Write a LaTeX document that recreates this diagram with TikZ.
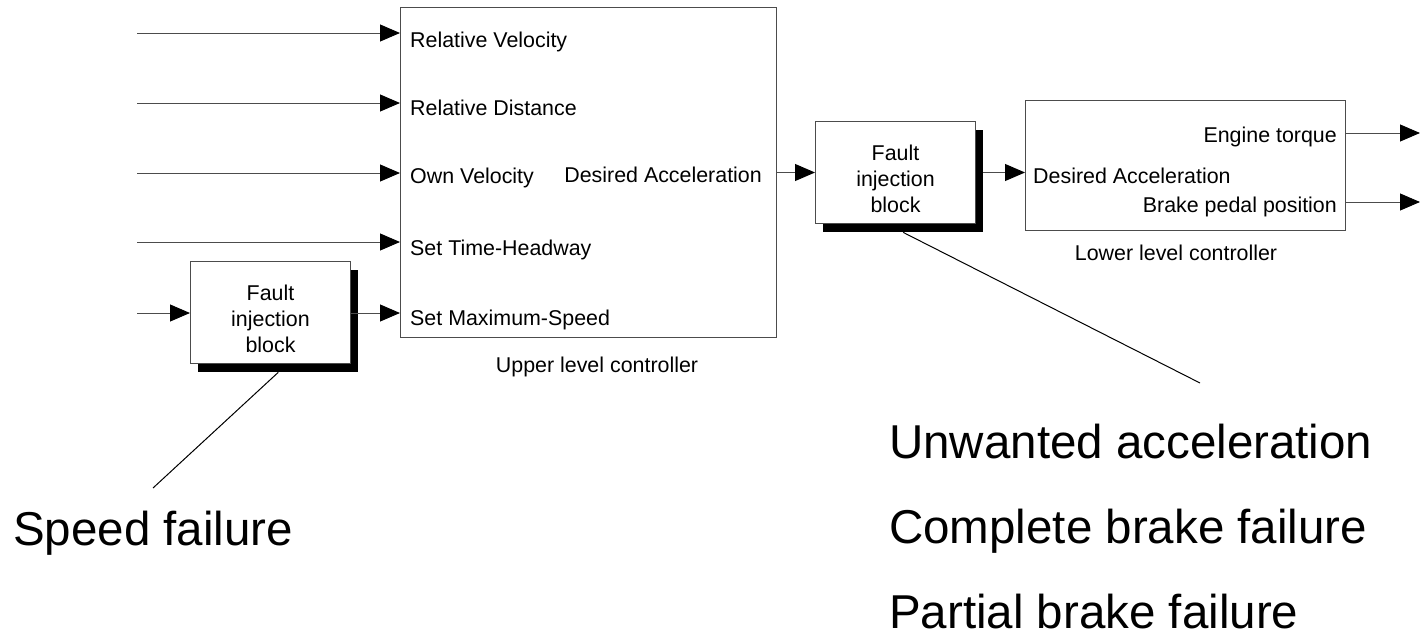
\documentclass[tikz,border=0pt]{standalone}
\usepackage{fontspec}
\setmainfont{Liberation Sans}
\usetikzlibrary{arrows.meta}
\tikzset{
  ln/.style={line width=1pt, draw=black!70},
  arr/.style={ln, -{Triangle[length=20pt,width=17pt,color=black]}},
  blk/.style={draw=black!70, line width=1pt, fill=white, inner sep=0pt, anchor=north west},
  shd/.style={fill=black, inner sep=0pt, anchor=north west},
  sm/.style={font=\fontsize{21.4}{26}\selectfont, inner sep=0pt},
  big/.style={font=\fontsize{47.5}{56}\selectfont, inner sep=0pt, anchor=base west},
}
\begin{document}
\begin{tikzpicture}[x=1pt,y=-1pt]
\useasboundingbox (0,0) rectangle (1420,635);
% upper level controller
\node[blk, minimum width=376pt, minimum height=330pt] (ulc) at (400,7) {};
% left fault block
\node[shd, minimum width=160pt, minimum height=102pt] (f1s) at (198,270) {};
\node[blk, minimum width=160pt, minimum height=102pt] (f1) at (190,261) {};
\node[sm, align=center] (f1t) at ([yshift=-6pt]f1.center) {Fault\\injection\\block};
% middle fault block
\node[shd, minimum width=160pt, minimum height=102pt] (f2s) at (823,130) {};
\node[blk, minimum width=160pt, minimum height=102pt] (f2) at (815,121) {};
\node[sm, align=center] (f2t) at ([yshift=-6pt]f2.center) {Fault\\injection\\block};
% lower level controller
\node[blk, minimum width=320pt, minimum height=130pt] (llc) at (1025,100) {};

% inputs
\coordinate (s1) at (137,33);
\coordinate (s2) at (137,103);
\coordinate (s3) at (137,173);
\coordinate (s4) at (137,242);
\coordinate (s5) at (137,313);
\draw[arr] (s1) -- (s1 -| ulc.west);
\draw[arr] (s2) -- (s2 -| ulc.west);
\draw[arr] (s3) -- (s3 -| ulc.west);
\draw[arr] (s4) -- (s4 -| ulc.west);
\draw[arr] (s5) -- (s5 -| f1.west);
\draw[arr] (s5 -| f1.east) -- (s5 -| ulc.west);

% upper box labels
\node[sm, anchor=base west] (l1) at (410,47) {Relative Velocity};
\node[sm, anchor=base west] (l2) at (410,115) {Relative Distance};
\node[sm, anchor=base west] (l3) at (410,183) {Own Velocity};
\node[sm, anchor=base west] (l4) at (410,255) {Set Time-Headway};
\node[sm, anchor=base west] (l5) at (410,325) {Set Maximum-Speed};
\node[sm, anchor=base east] (l6) at (762,182) {Desired Acceleration};
\node[sm, anchor=base] (ull) at (597,372) {Upper level controller};

% middle connections
\draw[arr] (f2.west -| ulc.east) -- (f2.west);
\draw[arr] (f2s.east |- f2.west) -- (llc.west |- f2.west);

% lower box labels
\node[sm, anchor=base east] (m1) at (1337,142) {Engine torque};
\node[sm, anchor=base west] (m2) at (1033,183) {Desired Acceleration};
\node[sm, anchor=base east] (m3) at (1337,212) {Brake pedal position};
\node[sm, anchor=base] (lll) at (1176,260) {Lower level controller};

% outputs
\coordinate (o1) at (1420,133);
\coordinate (o2) at (1420,202);
\draw[arr] (o1 -| llc.east) -- (o1);
\draw[arr] (o2 -| llc.east) -- (o2);

% callouts
\coordinate (c1) at (153,488);
\coordinate (c2) at (1200,383);
\draw[ln, draw=black] (f1s.south) -- (c1);
\draw[ln, draw=black] (f2s.south) -- (c2);

\node[big] (t0) at (13,545) {Speed failure};
\node[big] (t1) at (889,458) {Unwanted acceleration};
\node[big] (t2) at (889,543) {Complete brake failure};
\node[big] (t3) at (889,628) {Partial brake failure};
\end{tikzpicture}
\end{document}
